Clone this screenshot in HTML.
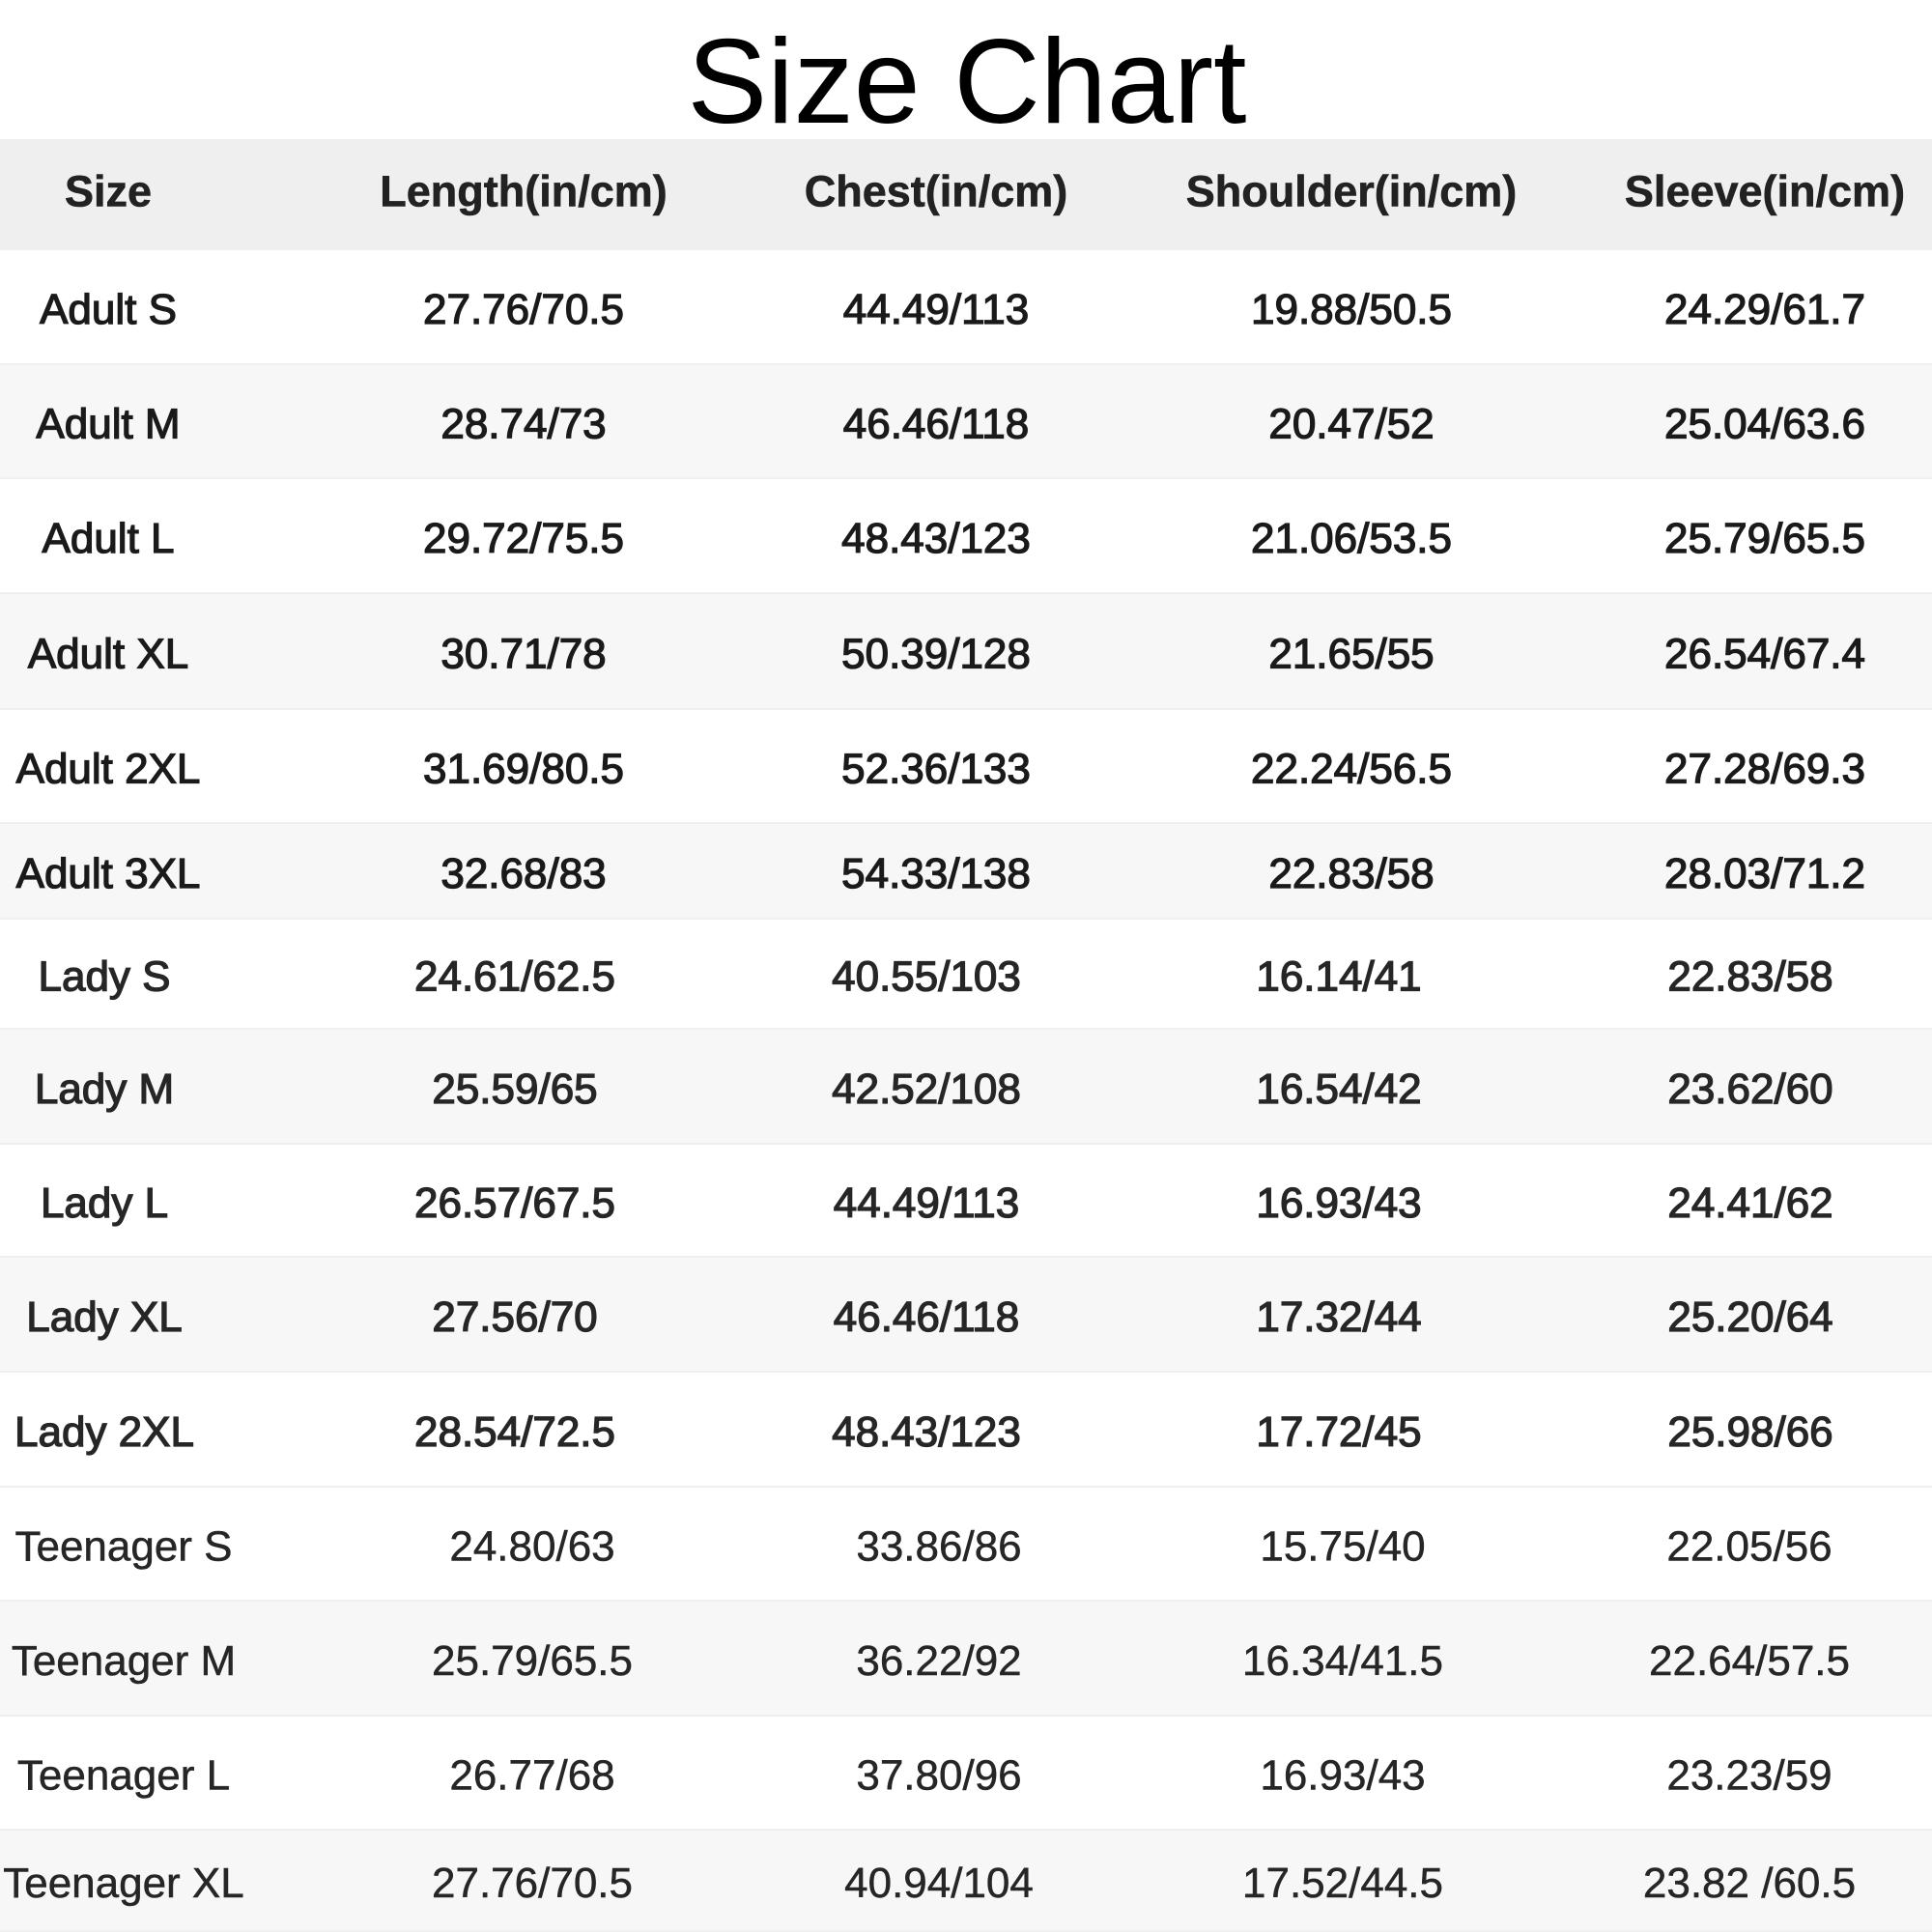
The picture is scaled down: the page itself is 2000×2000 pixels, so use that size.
<!DOCTYPE html>
<html><head><meta charset="utf-8"><style>
html,body{margin:0;padding:0;background:#fff;width:2000px;height:2000px;overflow:hidden}
svg{display:block}
</style></head><body>
<svg id="chart" width="2000" height="2000" viewBox="0 0 2000 2000" xmlns="http://www.w3.org/2000/svg">
<rect width="2000" height="2000" fill="#fff"/>
<text x="1001" y="127" text-anchor="middle" font-family="Liberation Sans, sans-serif" font-size="124" fill="#000">Size Chart</text>
<g id="rows"></g>
</svg>
<script>
const headers = ["Size","Length(in/cm)","Chest(in/cm)","Shoulder(in/cm)","Sleeve(in/cm)"];
const sizes = ["Adult S","Adult M","Adult L","Adult XL","Adult 2XL","Adult 3XL","Lady S","Lady M","Lady L","Lady XL","Lady 2XL","Teenager S","Teenager M","Teenager L","Teenager XL"];
const lengths = ["27.76/70.5","28.74/73","29.72/75.5","30.71/78","31.69/80.5","32.68/83","24.61/62.5","25.59/65","26.57/67.5","27.56/70","28.54/72.5","24.80/63","25.79/65.5","26.77/68","27.76/70.5"];
const chests = ["44.49/113","46.46/118","48.43/123","50.39/128","52.36/133","54.33/138","40.55/103","42.52/108","44.49/113","46.46/118","48.43/123","33.86/86","36.22/92","37.80/96","40.94/104"];
const shoulders = ["19.88/50.5","20.47/52","21.06/53.5","21.65/55","22.24/56.5","22.83/58","16.14/41","16.54/42","16.93/43","17.32/44","17.72/45","15.75/40","16.34/41.5","16.93/43","17.52/44.5"];
const sleeves = ["24.29/61.7","25.04/63.6","25.79/65.5","26.54/67.4","27.28/69.3","28.03/71.2","22.83/58","23.62/60","24.41/62","25.20/64","25.98/66","22.05/56","22.64/57.5","23.23/59","23.82 /60.5"];

const NS="http://www.w3.org/2000/svg";
const g=document.getElementById('rows');
const bounds=[259,378,496,615,735,853,952,1066,1185,1302,1421,1540,1658,1777,1895,2000];
const shade=[0,1,0,1,0,1,0,1,0,1,0,0,1,0,1];
const colsAdult=[112,542,969,1399,1827], colsLady=[108,533,959,1386,1812], colsTeen=[128,551,972,1390,1811];
const F='"Liberation Sans", sans-serif';
function txt(x,y,s,size,weight,fill,sw){
  const t=document.createElementNS(NS,'text');
  t.setAttribute('x',x);t.setAttribute('y',y);t.setAttribute('text-anchor','middle');
  t.setAttribute('dominant-baseline','central');t.setAttribute('font-family',F);
  t.setAttribute('font-size',size);t.setAttribute('font-weight',weight);t.setAttribute('fill',fill);
  if(sw){t.setAttribute('stroke',fill);t.setAttribute('stroke-width',sw);}
  t.textContent=s;return t;
}
const hb=document.createElementNS(NS,'rect');


hb.setAttribute('x',0);hb.setAttribute('y',144);hb.setAttribute('width',2000);hb.setAttribute('height',115);hb.setAttribute('fill','#efefef');
g.appendChild(hb);
headers.forEach((h,i)=>{
  const t=txt(colsAdult[i],198,h,45,'bold','#222',0.6);
  
  
  g.appendChild(t);
});
sizes.forEach((s,r)=>{
  const y0=bounds[r],y1=bounds[r+1];
  const bg=document.createElementNS(NS,'rect');
  
  
  bg.setAttribute('x',0);bg.setAttribute('y',y0);bg.setAttribute('width',2000);bg.setAttribute('height',y1-y0);
  bg.setAttribute('fill',shade[r]?'#f7f7f7':'#ffffff');
  g.appendChild(bg);
  const ln=document.createElementNS(NS,'rect');
  
  
  ln.setAttribute('x',0);ln.setAttribute('y',y1-2);ln.setAttribute('width',2000);ln.setAttribute('height',2);ln.setAttribute('fill','#efefef');
  g.appendChild(ln);
  const cols=r<6?colsAdult:(r<11?colsLady:colsTeen);
  const sw=r<11?1.3:0.5;
  const fill=r<6?'#1a1a1a':'#262626';
  const vals=[s,lengths[r],chests[r],shoulders[r],sleeves[r]];
  const cy=(y0+y1)/2+2;
  vals.forEach((v,i)=>{
    const t=txt(cols[i],cy,v,44,'normal',fill,sw);
    
    
    g.appendChild(t);
  });
});
</script>
</body></html>
